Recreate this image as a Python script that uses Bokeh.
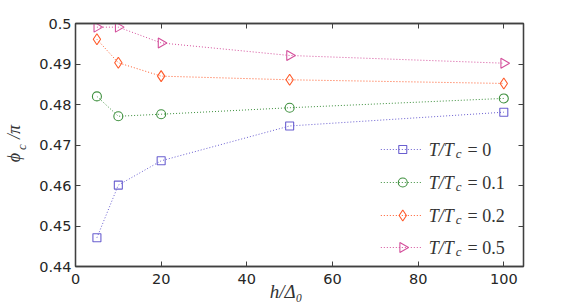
import math
from bokeh.plotting import figure
from bokeh.models import Range1d, LinearAxis, Label, FixedTicker
from bokeh.embed import file_html
from bokeh.resources import INLINE

# ---- data ----
h_values = [5, 10, 20, 50, 100]
phi_T0 = [0.4471, 0.4601, 0.4661, 0.4747, 0.4781]
phi_T01 = [0.4820, 0.4771, 0.4776, 0.4792, 0.4815]
phi_T02 = [0.4961, 0.4903, 0.4870, 0.4861, 0.4852]
phi_T05 = [0.4991, 0.4991, 0.4952, 0.4921, 0.4902]
series_values = [phi_T0, phi_T01, phi_T02, phi_T05]
series_T = ["0", "0.1", "0.2", "0.5"]
x_ticks = [0, 20, 40, 60, 80, 100]
y_ticks = [0.44, 0.45, 0.46, 0.47, 0.48, 0.49, 0.5]
y_tick_labels = ["0.44", "0.45", "0.46", "0.47", "0.48", "0.49", "0.5"]
x_label = "h/Δ₀"

# ---- styles ----
colors = ["#6a5fd0", "#3d8f3d", "#ff5a2a", "#d4509c"]
markers = ["square", "circle", "diamond", "triangle"]
angles = [0, 0, 0, -math.pi / 2]
msizes = [8, 9, 11, 10]
axis_color = "#404040"
tick_font = "DejaVu Sans"
math_font = "Liberation Serif"
txt_color = "#333333"

FW, FH = 449, 243
p = figure(width=574, height=306, x_range=Range1d(0, 104.6), y_range=Range1d(0.44, 0.5),
           output_backend="svg", toolbar_location=None,
           min_border_left=74, min_border_right=51, min_border_top=23, min_border_bottom=40)
p.extra_x_ranges = {"px": Range1d(0, FW)}
p.extra_y_ranges = {"px": Range1d(0, FH)}
p.xgrid.visible = False
p.ygrid.visible = False
p.outline_line_color = axis_color
p.outline_line_width = 1.3
p.background_fill_color = "white"
p.border_fill_color = "white"

def style_axis(ax, ticks, show_labels):
    ax.ticker = FixedTicker(ticks=ticks, minor_ticks=[])
    ax.axis_line_color = axis_color
    ax.axis_line_width = 1.3
    ax.major_tick_line_color = axis_color
    ax.major_tick_line_width = 1
    ax.major_tick_in = 5
    ax.major_tick_out = 0
    ax.minor_tick_line_color = None
    if show_labels:
        ax.major_label_text_font = tick_font
        ax.major_label_text_font_size = "14.5px"
        ax.major_label_text_color = "#262626"
    else:
        ax.major_label_text_color = None
        ax.major_label_text_font_size = "1px"
        ax.major_label_standoff = 0

style_axis(p.xaxis[0], x_ticks, True)
style_axis(p.yaxis[0], y_ticks, True)
p.xaxis[0].major_label_standoff = 7
p.yaxis[0].major_label_standoff = 4
p.yaxis[0].major_label_overrides = dict(zip(y_ticks, y_tick_labels))

top_ax = LinearAxis()
right_ax = LinearAxis()
style_axis(top_ax, x_ticks, False)
style_axis(right_ax, y_ticks, False)
p.add_layout(top_ax, "above")
p.add_layout(right_ax, "right")

# ---- axis-title text carried by label-only axes (positions in frame pixels) ----
def text_axis(range_kw, pos_list, texts, size, standoff, orientation="horizontal"):
    ax = LinearAxis(**range_kw)
    ax.ticker = FixedTicker(ticks=pos_list, minor_ticks=[])
    ax.major_label_overrides = dict(zip(pos_list, texts))
    ax.axis_line_color = None
    ax.major_tick_line_color = None
    ax.minor_tick_line_color = None
    ax.major_tick_in = 0
    ax.major_tick_out = 0
    ax.major_label_standoff = standoff
    ax.major_label_orientation = orientation
    ax.major_label_text_font = math_font
    ax.major_label_text_font_style = "italic"
    ax.major_label_text_font_size = size
    ax.major_label_text_color = txt_color
    return ax

p.add_layout(text_axis({"x_range_name": "px"}, [211], [x_label], "19px", -6), "below")
p.add_layout(text_axis({"y_range_name": "px"}, [119.5], ["c"], "13px", 8, "vertical"), "left")
p.add_layout(text_axis({"y_range_name": "px"}, [109, 134.5], ["ϕ", "/π"], "18px", -13, "vertical"), "left")

for vals, c, m, a, s in zip(series_values, colors, markers, angles, msizes):
    p.line(h_values, vals, line_color=c, line_dash="1 2", line_width=1)
    p.scatter(h_values, vals, marker=m, angle=a, size=s, fill_color=None,
              line_color=c, line_width=1.1)

# ---- manual legend (positions in frame pixels) ----
leg_y = [117, 84, 51, 19]
sw_x0, sw_x1, sw_xm = 306, 348, 328
for i, T in enumerate(series_T):
    y = leg_y[i]
    p.line([sw_x0, sw_x1], [y, y], x_range_name="px", y_range_name="px",
           line_color=colors[i], line_dash="1 2", line_width=1)
    p.scatter([sw_xm], [y], x_range_name="px", y_range_name="px", marker=markers[i],
              angle=angles[i], size=msizes[i], fill_color=None, line_color=colors[i], line_width=1.1)
    p.add_layout(Label(x=354, y=y, text="T/T", x_range_name="px", y_range_name="px",
                       text_font=math_font, text_font_style="italic", text_font_size="18px",
                       text_baseline="middle", text_color=txt_color))
    p.add_layout(Label(x=381, y=y - 4, text="c", x_range_name="px", y_range_name="px",
                       text_font=math_font, text_font_style="italic", text_font_size="13px",
                       text_baseline="middle", text_color=txt_color))
    p.add_layout(Label(x=393, y=y, text="= " + T, x_range_name="px", y_range_name="px",
                       text_font=math_font, text_font_size="18px",
                       text_baseline="middle", text_color=txt_color))

open("out.html", "w").write(file_html(p, INLINE))
